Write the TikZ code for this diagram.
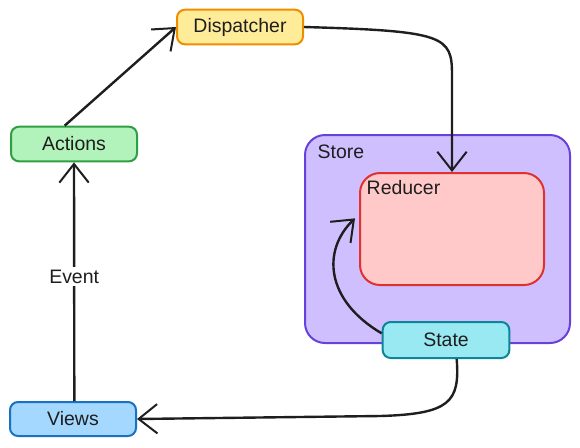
\documentclass[tikz,border=0pt]{standalone}
\usepackage{fontspec}
\setmainfont{Liberation Sans}
\usepackage{xcolor}
\usetikzlibrary{arrows.meta}
\usetikzlibrary{positioning}

\definecolor{ink}{HTML}{1E1E1E}
\definecolor{dispfill}{HTML}{FFEC99}
\definecolor{displine}{HTML}{F08C00}
\definecolor{actfill}{HTML}{B2F2BB}
\definecolor{actline}{HTML}{2F9E44}
\definecolor{viewfill}{HTML}{A5D8FF}
\definecolor{viewline}{HTML}{1971C2}
\definecolor{storefill}{HTML}{D0BFFF}
\definecolor{storeline}{HTML}{6741D9}
\definecolor{redfill}{HTML}{FFC9C9}
\definecolor{redline}{HTML}{E03131}
\definecolor{statefill}{HTML}{99E9F2}
\definecolor{stateline}{HTML}{0C8599}

\begin{document}
\begin{tikzpicture}[x=0.75pt,y=-0.75pt,
  lbl/.style={font=\fontsize{14.6}{17}\selectfont, text=ink},
  box/.style={lbl, draw, line width=1.5pt, rounded corners=6pt,
    minimum width=94.5pt, minimum height=26pt, inner sep=0pt},
  link/.style={line width=1.8pt, draw=ink,
    -{Straight Barb[length=14pt,width=22pt,line width=1.5pt]}}]
\useasboundingbox (0,0) rectangle (580,447);

% store and reducer
\node[draw=storeline, fill=storefill, line width=1.5pt, rounded corners=15pt,
  minimum width=198.75pt, minimum height=156pt] (store) at (437.5,239) {};
\node[lbl, anchor=west] (storelbl) at (313,152) {Store};
\node[draw=redline, fill=redfill, line width=1.5pt, rounded corners=15pt,
  minimum width=138pt, minimum height=84pt] (reducer) at (452,229) {};
\node[lbl, anchor=west] (reducerlbl) at (362,188) {Reducer};

% the boxes
\node[box, draw=displine, fill=dispfill] (dispatcher) at (240,27) {Dispatcher};
\node[box, draw=actline, fill=actfill] (actions) at (74,144) {Actions};
\node[box, draw=viewline, fill=viewfill, minimum height=25.5pt] (views) at (73,419) {Views};
\node[box, draw=stateline, fill=statefill, minimum width=95pt, minimum height=27pt] (state) at (446,340) {State};

% flow
\draw[link] ([xshift=-7pt]actions.north) -- (dispatcher.west);
\draw[link] (dispatcher.east) .. controls (445,31) and (452,36) .. (452,75) -- (reducer.north);
\draw[link] ([yshift=5pt]state.west) .. controls (325,300) and (322,250) .. ([xshift=-3pt,yshift=8pt]reducer.west);
\draw[link] ([xshift=8pt]state.south) .. controls (460,402) and (450,414) .. (380,416) -- (views.east);
\draw[link] ([xshift=1pt]views.north) -- node[lbl, fill=white, inner sep=2pt, pos=0.52] (event) {Event} (actions.south);
\end{tikzpicture}
\end{document}
